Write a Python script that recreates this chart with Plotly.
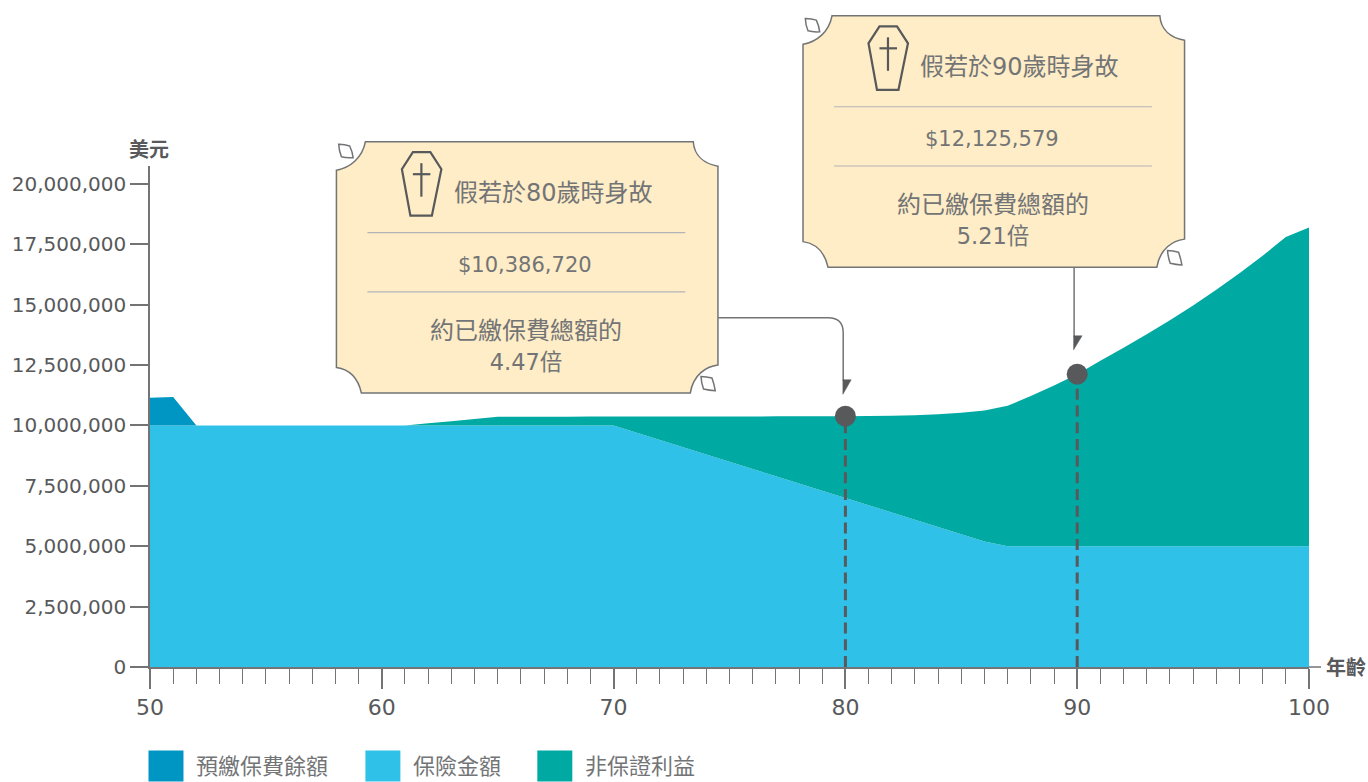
import plotly.graph_objects as go

ages = list(range(50, 101))
premium_balance = [1150000, 1180000] + [0] * 49
sum_assured = [10000000] * 21 + [
    9700000, 9400000, 9100000, 8800000, 8500000, 8200000, 7900000, 7600000, 7300000, 7000000,
    6700000, 6400000, 6100000, 5800000, 5500000, 5200000, 5000000,
] + [5000000] * 13
total_value = [10000000] * 12 + [
    10090000, 10180000, 10270000, 10360000, 10362000, 10364000, 10366000, 10368000,
    10370000, 10372000, 10373000, 10374000, 10375000, 10376000, 10377000, 10378000,
    10380000, 10382000, 10386720, 10390000, 10400000, 10420000, 10470000,
    10530000, 10620000, 10820000, 11220000, 11660000, 12125579, 12680000, 13220000,
    13780000, 14360000, 14970000, 15620000, 16300000, 17030000, 17800000, 18200000,
]
non_guaranteed = [max(t - s, 0) for t, s in zip(total_value, sum_assured)]

y_ticks = [0, 2500000, 5000000, 7500000, 10000000, 12500000, 15000000, 17500000, 20000000]
x_ticks = [50, 60, 70, 80, 90, 100]
markers_x = [80, 90]
markers_y = [10386720, 12125579]
series_names = ["預繳保費餘額", "保險金額", "非保證利益"]
series_colors = ["#0096c4", "#2fc1e8", "#00a9a2"]
callouts = [
    ("假若於80歲時身故", "$10,386,720", "約已繳保費總額的<br><span style=\"font-size:22.5px\">4.47倍</span>"),
    ("假若於90歲時身故", "$12,125,579", "約已繳保費總額的<br><span style=\"font-size:22.5px\">5.21倍</span>"),
]

L, R, T, B = 149.5, 1309.0, 166.0, 667.5
Y_MAX = (B - T) / (B - 184.0) * 20000000
FONT = "DejaVu Sans, Noto Sans CJK TC, sans-serif"
DARK = "#58595b"
SOFT = "#737476"


def fx(p):
    return (p - L) / (R - L)


def fy(p):
    return (B - p) / (B - T)


def path(cmds):
    out = []
    for c in cmds:
        out.append(c[0] + " ".join(f"{fx(c[i]):.5f},{fy(c[i + 1]):.5f}" for i in range(1, len(c) - 1, 2)))
    return " ".join(out) + " Z" if cmds[-1][-1:] == ("z",) else " ".join(out)


fig = go.Figure()
fig.add_trace(go.Scatter(x=ages, y=sum_assured, stackgroup="a", mode="none", fillcolor=series_colors[1], name=series_names[1], hoverinfo="skip"))
fig.add_trace(go.Scatter(x=ages, y=premium_balance, stackgroup="a", mode="none", fillcolor=series_colors[0], name=series_names[0], hoverinfo="skip"))
fig.add_trace(go.Scatter(x=ages, y=non_guaranteed, stackgroup="a", mode="none", fillcolor=series_colors[2], name=series_names[2], hoverinfo="skip"))
for mx, my in zip(markers_x, markers_y):
    fig.add_trace(go.Scatter(x=[mx, mx], y=[0, my], mode="lines", line=dict(color=DARK, width=3, dash="11px,5.7px"), hoverinfo="skip"))
fig.add_trace(go.Scatter(x=markers_x, y=markers_y, mode="markers", marker=dict(color=DARK, size=21), hoverinfo="skip"))

shapes = []
annotations = []


def pshape(cmds, fill=None, color=DARK, width=1.5):
    s = dict(type="path", xref="paper", yref="paper", path=path(cmds), line=dict(color=color, width=width), layer="above")
    if fill:
        s["fillcolor"] = fill
    shapes.append(s)


def text(px, py, s, size=22, color=SOFT, anchor="center", weight=None):
    annotations.append(dict(xref="paper", yref="paper", x=fx(px), y=fy(py), text=s, showarrow=False,
                            xanchor=anchor, yanchor="middle", align="center",
                            font=dict(family=FONT, size=size, color=color, weight=weight or 400)))


def card(ox, oy, callout):
    a = lambda x, y: (x + ox, y + oy)
    w, h = 381.7, 251.6
    pshape([
        ("M", *a(29, 0)), ("L", *a(357, 0)),
        ("C", *a(358, 14), *a(368, 22), *a(w, 24.5)),
        ("L", *a(w, 223.5)),
        ("C", *a(370, 225), *a(357, 233), *a(354, h)),
        ("L", *a(25, h)),
        ("C", *a(22, 238), *a(14, 228), *a(0, 226)),
        ("L", *a(0, 28.5)),
        ("C", *a(14, 26), *a(26, 16), *a(29, 0)),
        ("z",),
    ], fill="#feedc6", color=SOFT)
    # small leaves on two corners
    pshape([("M", *a(2.3, 2.6)), ("Q", *a(8, 2.5), *a(13.3, 4.3)), ("Q", *a(16, 10), *a(16.7, 16)),
            ("Q", *a(10, 16.5), *a(5, 15)), ("Q", *a(2.5, 9), *a(2.3, 2.6)), ("z",)], color=SOFT)
    pshape([("M", *a(364.7, 235)), ("Q", *a(370, 235), *a(375.7, 236.6)), ("Q", *a(378, 243), *a(379, 249.3)),
            ("Q", *a(373, 249), *a(367.3, 247.6)), ("Q", *a(365, 241), *a(364.7, 235)), ("z",)], color=SOFT)
    # coffin icon
    pshape([("M", *a(76.5, 10.5)), ("L", *a(94, 10.5)), ("L", *a(105, 27.5)), ("L", *a(95.5, 74)),
            ("L", *a(74, 74)), ("L", *a(65.5, 27.5)), ("z",)], color=DARK, width=2.2)
    pshape([("M", *a(85, 21.5)), ("L", *a(85, 55))], color=DARK, width=2.2)
    pshape([("M", *a(76.5, 32.5)), ("L", *a(94, 32.5))], color=DARK, width=2.2)
    for dy in (91, 150.3):
        pshape([("M", *a(31, dy)), ("L", *a(349, dy))], color="#b3b3ba", width=1.2)
    text(*a(217, 51), callout[0], size=24)
    text(*a(189, 123.5), callout[1], size=21)
    text(*a(190, 204), callout[2], size=24)


card(336, 141.7, callouts[0])
card(802.8, 15.7, callouts[1])

# connectors
pshape([("M", 718, 318), ("L", 828, 318), ("Q", 843, 318, 843, 333), ("L", 843, 381)], color=SOFT)
pshape([("M", 842.7, 380), ("L", 851, 380), ("L", 842.7, 394.5), ("z",)], fill=DARK, color=DARK, width=0.5)
pshape([("M", 1074, 267.5), ("L", 1074, 337)], color=SOFT)
pshape([("M", 1073.5, 336), ("L", 1082, 336), ("L", 1073.5, 350), ("z",)], fill=DARK, color=DARK, width=0.5)

# axis extension
pshape([("M", R, B), ("L", 1321, B)], color=SOFT, width=1.5)

# axis titles
text(148.5, 150, "美元", size=20, color=DARK, weight=700)
text(1346, 669, "年齡", size=20, color=DARK, weight=700)

# legend
for sx, tx, name, col in zip([148, 365, 537], [194, 411, 583], series_names, series_colors):
    shapes.append(dict(type="rect", xref="paper", yref="paper", x0=fx(sx), x1=fx(sx + 35), y0=fy(751), y1=fy(782),
                       fillcolor=col, line=dict(width=0), layer="above"))
    text(tx, 767, name, size=22, anchor="left")

fig.update_layout(
    width=1368, height=782, margin=dict(l=L, r=1368 - R, t=T, b=782 - B, autoexpand=False),
    paper_bgcolor="white", plot_bgcolor="white", showlegend=False,
    font=dict(family=FONT, color=DARK, size=20),
    shapes=shapes, annotations=annotations,
    xaxis=dict(range=[50, 100], tickvals=x_ticks, ticktext=[str(v) for v in x_ticks], ticks="outside", ticklen=20, tickwidth=1.5,
               tickcolor=SOFT, showline=True, linecolor=SOFT, linewidth=1.5, showgrid=False, zeroline=False,
               tickfont=dict(size=22, color=DARK),
               minor=dict(tick0=50, dtick=1, ticks="outside", ticklen=15, tickwidth=1.2, tickcolor=SOFT, showgrid=False)),
    yaxis=dict(range=[0, Y_MAX], tickvals=y_ticks, ticktext=[f"{v:,}" for v in y_ticks], ticks="outside", ticklen=18, tickwidth=1.5,
               tickcolor=SOFT, showline=True, linecolor=SOFT, linewidth=1.5, showgrid=False, zeroline=False,
               tickfont=dict(size=20, color=DARK)),
)
fig.write_html("out.html", config=dict(displayModeBar=False), post_script="document.body.style.margin='0';")
